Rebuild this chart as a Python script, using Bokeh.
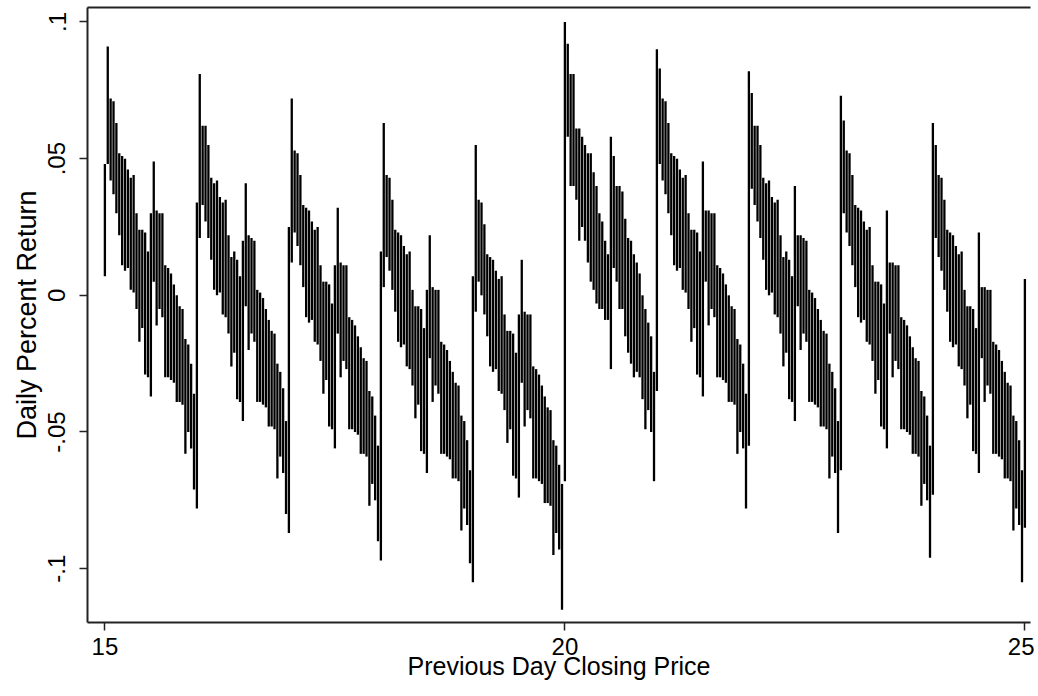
from bokeh.plotting import figure
from bokeh.models import FixedTicker, LinearAxis, Range1d
from bokeh.embed import file_html
from bokeh.resources import INLINE

# Previous day closing price units (each split into 1/32 price ticks)
units = [15, 16, 17, 18, 19, 20, 21, 22, 23, 24]
ticks_per_unit = 32

# Daily return range (high / low) per price tick, in thousandths
hi_15 = [48, 91, 72, 71, 63, 52, 51, 50, 46, 43, 44, 30, 24, 24, 23, 16, 30, 49, 31, 30, 30, 11, 10, 8, 4, 0, -4, -5, -16, -18, -25, -36]
lo_15 = [7, 48, 42, 37, 30, 22, 11, 9, 10, 2, 1, -5, -17, -12, -29, -30, -37, 5, -11, -5, -8, -30, -30, -31, -32, -39, -39, -40, -58, -50, -56, -71]
hi_16 = [34, 81, 62, 62, 55, 43, 41, 42, 36, 34, 35, 22, 14, 16, 13, 7, 20, 41, 22, 21, 20, 2, 1, -1, -5, -9, -13, -14, -25, -28, -34, -46]
lo_16 = [-78, 21, 33, 27, 21, 13, 2, 0, 1, -7, -8, -14, -26, -21, -38, -39, -46, -4, -20, -14, -17, -39, -39, -40, -41, -48, -48, -49, -67, -59, -65, -80]
hi_17 = [25, 72, 53, 52, 44, 33, 32, 31, 27, 24, 25, 11, 5, 5, 4, -3, 11, 32, 12, 11, 11, -8, -9, -11, -15, -19, -23, -24, -35, -37, -44, -55]
lo_17 = [-87, 12, 23, 18, 11, 3, -8, -10, -9, -17, -18, -24, -36, -31, -48, -49, -56, -14, -30, -24, -27, -49, -49, -50, -51, -58, -58, -59, -77, -69, -75, -90]
hi_18 = [16, 63, 44, 43, 35, 24, 23, 22, 18, 15, 16, 2, -4, -4, -5, -12, 2, 22, 3, 2, 2, -17, -18, -20, -24, -28, -32, -33, -44, -46, -53, -64]
lo_18 = [-97, 3, 14, 9, 2, -6, -17, -19, -18, -26, -27, -33, -45, -40, -57, -58, -65, -23, -39, -33, -36, -58, -58, -59, -60, -67, -67, -68, -86, -78, -84, -98]
hi_19 = [7, 55, 35, 34, 26, 15, 14, 13, 9, 6, 7, -7, -13, -13, -14, -21, -7, 13, -6, -7, -7, -26, -27, -29, -33, -37, -41, -42, -53, -55, -62, -69]
lo_19 = [-105, -6, 5, 0, -7, -15, -26, -28, -27, -35, -36, -42, -54, -49, -66, -67, -74, -32, -48, -42, -45, -67, -67, -68, -69, -76, -76, -77, -95, -87, -93, -115]
hi_20 = [100, 92, 81, 81, 61, 61, 58, 55, 52, 52, 45, 40, 30, 27, 20, 15, 58, 51, 40, 40, 38, 28, 21, 20, 15, 12, 8, 0, -5, -10, -15, -28]
lo_20 = [-68, 58, 40, 40, 35, 20, 25, 20, 12, 5, 2, -3, -5, -5, -9, -9, -27, 10, 5, -5, -5, -15, -21, -25, -30, -28, -30, -38, -49, -42, -50, -68]
hi_21 = [90, 83, 72, 71, 63, 52, 51, 50, 46, 43, 44, 30, 24, 24, 23, 16, 49, 31, 31, 30, 30, 11, 10, 8, 4, 0, -4, -5, -16, -18, -25, -36]
lo_21 = [-35, 48, 42, 37, 30, 22, 11, 9, 10, 2, 1, -5, -17, -12, -29, -30, -37, 5, -11, -5, -8, -30, -30, -31, -32, -39, -39, -40, -58, -50, -56, -78]
hi_22 = [82, 74, 62, 62, 55, 43, 41, 42, 36, 34, 35, 22, 14, 16, 13, 7, 40, 22, 22, 21, 20, 2, 1, -1, -5, -9, -13, -14, -25, -28, -34, -46]
lo_22 = [-55, 39, 33, 27, 21, 13, 2, 0, 1, -7, -8, -14, -26, -21, -38, -39, -46, -4, -20, -14, -17, -39, -39, -40, -41, -48, -48, -49, -67, -59, -65, -87]
hi_23 = [73, 64, 53, 52, 44, 33, 32, 31, 27, 24, 25, 11, 5, 5, 4, -3, 31, 12, 12, 11, 11, -8, -9, -11, -15, -19, -23, -24, -35, -37, -44, -55]
lo_23 = [-64, 30, 23, 18, 11, 3, -8, -10, -9, -17, -18, -24, -36, -31, -48, -49, -56, -14, -30, -24, -27, -49, -49, -50, -51, -58, -58, -59, -77, -69, -75, -96]
hi_24 = [63, 55, 44, 43, 35, 24, 23, 22, 18, 15, 16, 2, -4, -4, -5, -12, 23, 3, 3, 2, 2, -17, -18, -20, -24, -28, -32, -33, -44, -46, -53, -64]
lo_24 = [-73, 21, 14, 9, 2, -6, -17, -19, -18, -26, -27, -33, -45, -40, -57, -58, -65, -23, -39, -33, -36, -58, -58, -59, -60, -67, -67, -68, -86, -78, -84, -105]
# last observation at price 25
hi_25 = [6]
lo_25 = [-85]

y_ticks = [-0.1, -0.05, 0, 0.05, 0.1]
y_tick_labels = ["-.1", "-.05", "0", ".05", ".1"]
x_ticks = [15, 20, 25]
x_tick_labels = ["15", "20", "25"]

his = [hi_15, hi_16, hi_17, hi_18, hi_19, hi_20, hi_21, hi_22, hi_23, hi_24]
los = [lo_15, lo_16, lo_17, lo_18, lo_19, lo_20, lo_21, lo_22, lo_23, lo_24]

xs, y_hi, y_lo = [], [], []
for u, hs, ls in zip(units, his, los):
    for j, (h, l) in enumerate(zip(hs, ls)):
        xs.append(u + j / ticks_per_unit)
        y_hi.append(h / 1000.0)
        y_lo.append(l / 1000.0)
xs.append(25.0)
y_hi.append(hi_25[0] / 1000.0)
y_lo.append(lo_25[0] / 1000.0)

FONT = "Liberation Sans"

p = figure(width=1034, height=690,
           x_range=Range1d(14.811, 25.061), y_range=Range1d(-0.1197, 0.1053),
           output_backend="svg", toolbar_location=None,
           min_border_left=87, min_border_right=4, min_border_top=7, min_border_bottom=68)
p.xgrid.grid_line_color = None
p.ygrid.grid_line_color = None
p.outline_line_color = None
p.background_fill_color = "white"
p.border_fill_color = "white"

p.segment(x0=xs, y0=y_lo, x1=xs, y1=y_hi, line_color="black", line_width=2.3)

for ax in (p.xaxis[0], p.yaxis[0]):
    ax.axis_line_width = 2
    ax.axis_line_color = "#222222"
    ax.major_tick_out = 8
    ax.major_tick_in = 0
    ax.major_tick_line_width = 1.5
    ax.major_tick_line_color = "#222222"
    ax.minor_tick_line_color = None
    ax.major_label_text_font = FONT
    ax.major_label_text_font_size = "24px"
    ax.major_label_text_color = "black"
    ax.axis_label_text_font = FONT
    ax.axis_label_text_font_style = "normal"
    ax.axis_label_text_color = "black"

p.xaxis.axis_label_text_font_size = "25px"
p.yaxis.axis_label_text_font_size = "27px"

p.xaxis.ticker = FixedTicker(ticks=x_ticks)
p.xaxis.major_label_overrides = {t: s for t, s in zip(x_ticks, x_tick_labels)}
p.xaxis.axis_label = "Previous Day Closing Price"
p.xaxis.major_label_standoff = 7
p.xaxis.axis_label_standoff = -6

p.yaxis.ticker = FixedTicker(ticks=y_ticks)
p.yaxis.major_label_overrides = {t: s for t, s in zip(y_ticks, y_tick_labels)}
p.yaxis.major_label_orientation = "parallel"
p.yaxis.axis_label = "Daily Percent Return"
p.yaxis.major_label_standoff = 14
p.yaxis.axis_label_standoff = 4

top = LinearAxis(ticker=FixedTicker(ticks=[]), axis_line_width=2, axis_line_color="#222222",
                 major_tick_line_color=None, minor_tick_line_color=None,
                 major_label_text_font_size="0px")
p.add_layout(top, "above")

open("out.html", "w").write(file_html(p, INLINE))
